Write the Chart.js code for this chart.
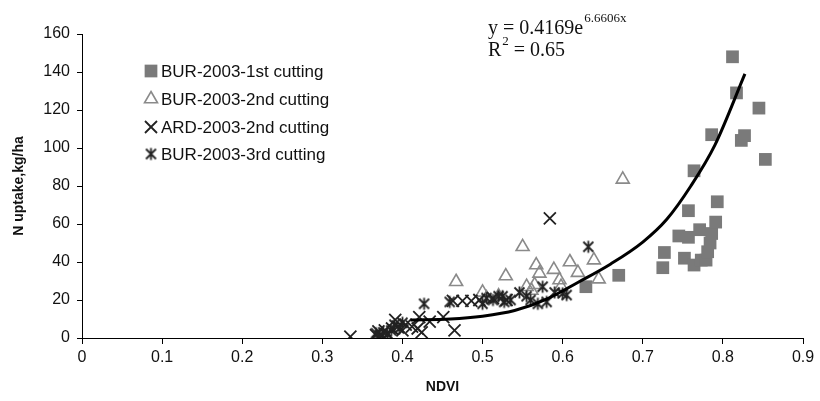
<!DOCTYPE html>
<html>
<head>
<meta charset="utf-8">
<script src="https://cdn.jsdelivr.net/npm/chart.js@4/dist/chart.umd.min.js"></script>
<style>
  html, body { margin: 0; padding: 0; background: #fff; }
  #wrap { width: 820px; height: 401px; }
</style>
</head>
<body>
<div id="wrap"><canvas id="nChart" width="820" height="401"></canvas></div>
<script>
// values: [NDVI, N uptake]
const bur1st = [[0.629,27],[0.670,33],[0.725,37],[0.727,45],[0.745,53.7],[0.752,42],[0.757,53],[0.757,67],
  [0.764,38.4],[0.764,88],[0.771,57],[0.773,41],[0.779,41],[0.781,45.4],[0.784,50],[0.786,55],[0.786,107],
  [0.791,61],[0.793,71.7],[0.812,148],[0.817,129],[0.823,104],[0.827,106.5],[0.845,121],[0.853,94]];
const bur2nd = [[0.467,29.6],[0.500,24],[0.505,21],[0.520,22],[0.529,32.6],[0.550,48],[0.555,27],[0.561,25],
  [0.565,28],[0.567,38.4],[0.571,34],[0.589,36],[0.596,30.5],[0.598,27],[0.609,40],[0.619,34.4],[0.639,41],
  [0.645,31],[0.675,83.5]];
const ard2nd = [[0.335,0.7],[0.367,1.5],[0.370,3.5],[0.374,1],[0.378,4],[0.382,2],[0.387,5],[0.391,9.5],
  [0.394,6],[0.400,4],[0.404,7],[0.412,6],[0.419,5],[0.421,11],[0.424,3],[0.434,8.6],[0.451,11],[0.463,19.5],
  [0.465,4],[0.475,19.5],[0.486,19.5],[0.496,20],[0.513,21],[0.530,20],[0.584,63]];
const bur3rd = [[0.367,2.5],[0.371,1],[0.376,3],[0.381,2],[0.386,4],[0.390,7],[0.396,5],[0.400,8],[0.427,18],
  [0.459,19],[0.500,18],[0.505,21],[0.513,20],[0.520,22],[0.525,22],[0.527,19],[0.535,20],[0.546,24],
  [0.555,22],[0.560,20],[0.569,18],[0.575,27],[0.580,19],[0.590,24],[0.600,23.5],[0.605,22.6],[0.632,48]];
// fitted curve as drawn in the picture
const trendX = [0.41, 0.46, 0.50, 0.54, 0.58, 0.62, 0.66, 0.70, 0.73, 0.76, 0.79, 0.8275];
const trendY = [9.5, 10, 11.5, 14.5, 20.5, 29.5, 39, 50.5, 62.5, 80, 101.5, 139];

const seriesNames = ['BUR-2003-1st cutting', 'BUR-2003-2nd cutting', 'ARD-2003-2nd cutting', 'BUR-2003-3rd cutting'];
const xTickLabels = ['0', '0.1', '0.2', '0.3', '0.4', '0.5', '0.6', '0.7', '0.8', '0.9'];
const yTickLabels = ['0', '20', '40', '60', '80', '100', '120', '140', '160'];
const equation = ['y = 0.4169e', '6.6606x', 'R', '2', ' = 0.65'];

const toPts = arr => arr.map(p => ({ x: p[0], y: p[1] }));

// asterisk marker: an x with a vertical bar
function makeStar(size, color) {
  const c = document.createElement('canvas');
  c.width = size; c.height = size;
  const g = c.getContext('2d');
  const m = 1.5, h = size / 2;
  g.strokeStyle = color;
  g.lineWidth = 1.8;
  g.beginPath();
  g.moveTo(h, m); g.lineTo(h, size - m);
  g.moveTo(m + 1, m + 1); g.lineTo(size - m - 1, size - m - 1);
  g.moveTo(size - m - 1, m + 1); g.lineTo(m + 1, size - m - 1);
  g.stroke();
  return c;
}
const starImg = makeStar(15, '#222');

const legendPlugin = {
  id: 'boxLegend',
  afterDraw(chart) {
    const ctx = chart.ctx;
    const rows = [71, 99, 127, 154];
    ctx.save();
    chart.data.datasets.slice(0, 4).forEach((ds, i) => {
      ctx.fillStyle = ds.backgroundColor;
      ctx.strokeStyle = ds.borderColor;
      ctx.lineWidth = ds.borderWidth;
      Chart.helpers.drawPoint(ctx, {
        pointStyle: ds.pointStyle, radius: ds.pointRadius, rotation: 0, borderWidth: ds.borderWidth
      }, 151, rows[i]);
      ctx.fillStyle = '#111';
      ctx.font = '17px "Liberation Sans", Arial, sans-serif';
      ctx.textBaseline = 'middle';
      ctx.textAlign = 'left';
      ctx.fillText(seriesNames[i], 161, rows[i] + 1);
    });
    // equation
    ctx.fillStyle = '#111';
    ctx.textBaseline = 'alphabetic';
    ctx.font = '20px "Liberation Serif", "Times New Roman", serif';
    ctx.fillText(equation[0], 488, 34);
    let w = ctx.measureText(equation[0]).width;
    ctx.font = '13px "Liberation Serif", "Times New Roman", serif';
    ctx.fillText(equation[1], 488 + w + 1, 22);
    ctx.font = '20px "Liberation Serif", "Times New Roman", serif';
    ctx.fillText(equation[2], 488, 56);
    w = ctx.measureText(equation[2]).width;
    ctx.font = '13px "Liberation Serif", "Times New Roman", serif';
    ctx.fillText(equation[3], 488 + w + 1, 45);
    const w2 = ctx.measureText(equation[3]).width;
    ctx.font = '20px "Liberation Serif", "Times New Roman", serif';
    ctx.fillText(equation[4], 488 + w + w2 + 1, 56);
    ctx.restore();
  }
};

const tickFont = { family: '"Liberation Sans Narrow", "Arial Narrow", "Liberation Sans", Arial, sans-serif', size: 16 };
const titleFont = { family: '"Liberation Sans", Arial, sans-serif', size: 14, weight: 'bold' };

new Chart(document.getElementById('nChart').getContext('2d'), {
  type: 'scatter',
  data: {
    datasets: [
      { label: seriesNames[0], data: toPts(bur1st), pointStyle: 'rect', pointRadius: 9, pointHoverRadius: 9,
        backgroundColor: '#7a7a7a', borderColor: '#7a7a7a', borderWidth: 0, order: 4 },
      { label: seriesNames[1], data: toPts(bur2nd), pointStyle: 'triangle', pointRadius: 7.5, pointHoverRadius: 7.5,
        backgroundColor: 'rgba(0,0,0,0)', borderColor: '#8a8a8a', borderWidth: 1.6, order: 3 },
      { label: seriesNames[2], data: toPts(ard2nd), pointStyle: 'crossRot', pointRadius: 8.5, pointHoverRadius: 8.5,
        backgroundColor: '#222', borderColor: '#222', borderWidth: 1.8, order: 2 },
      { label: seriesNames[3], data: toPts(bur3rd), pointStyle: starImg, pointRadius: 7.5, pointHoverRadius: 7.5,
        backgroundColor: '#222', borderColor: '#222', borderWidth: 1.8, order: 1 },
      { label: 'trend', data: trendX.map((x, i) => ({ x: x, y: trendY[i] })), showLine: true,
        cubicInterpolationMode: 'monotone', pointRadius: 0, borderColor: '#000', borderWidth: 3, order: 0 }
    ]
  },
  options: {
    responsive: false,
    animation: false,
    devicePixelRatio: 1,
    layout: { padding: { left: 0, right: 17, top: 34, bottom: 0 } },
    plugins: { legend: { display: false }, tooltip: { enabled: false } },
    scales: {
      x: {
        type: 'linear', min: 0, max: 0.9,
        afterFit: s => { s.height = 63; },
        ticks: { stepSize: 0.1, color: '#111', font: tickFont, padding: 4,
          callback: (v, i) => xTickLabels[i] },
        grid: { drawOnChartArea: false, drawTicks: true, tickLength: 6, color: '#000' },
        border: { color: '#000', width: 1 },
        title: { display: true, text: 'NDVI', color: '#111', font: titleFont, padding: { top: 0, bottom: 5 } }
      },
      y: {
        min: 0, max: 160,
        afterFit: s => { s.width = 82; },
        ticks: { stepSize: 20, color: '#111', font: tickFont, padding: 7,
          callback: (v, i) => yTickLabels[i] },
        grid: { drawOnChartArea: false, drawTicks: true, tickLength: 5, color: '#000' },
        border: { color: '#000', width: 1 },
        title: { display: true, text: 'N uptake,kg/ha', color: '#111', font: titleFont, padding: { top: 11, bottom: 0 } }
      }
    }
  },
  plugins: [legendPlugin]
});
</script>
</body>
</html>
